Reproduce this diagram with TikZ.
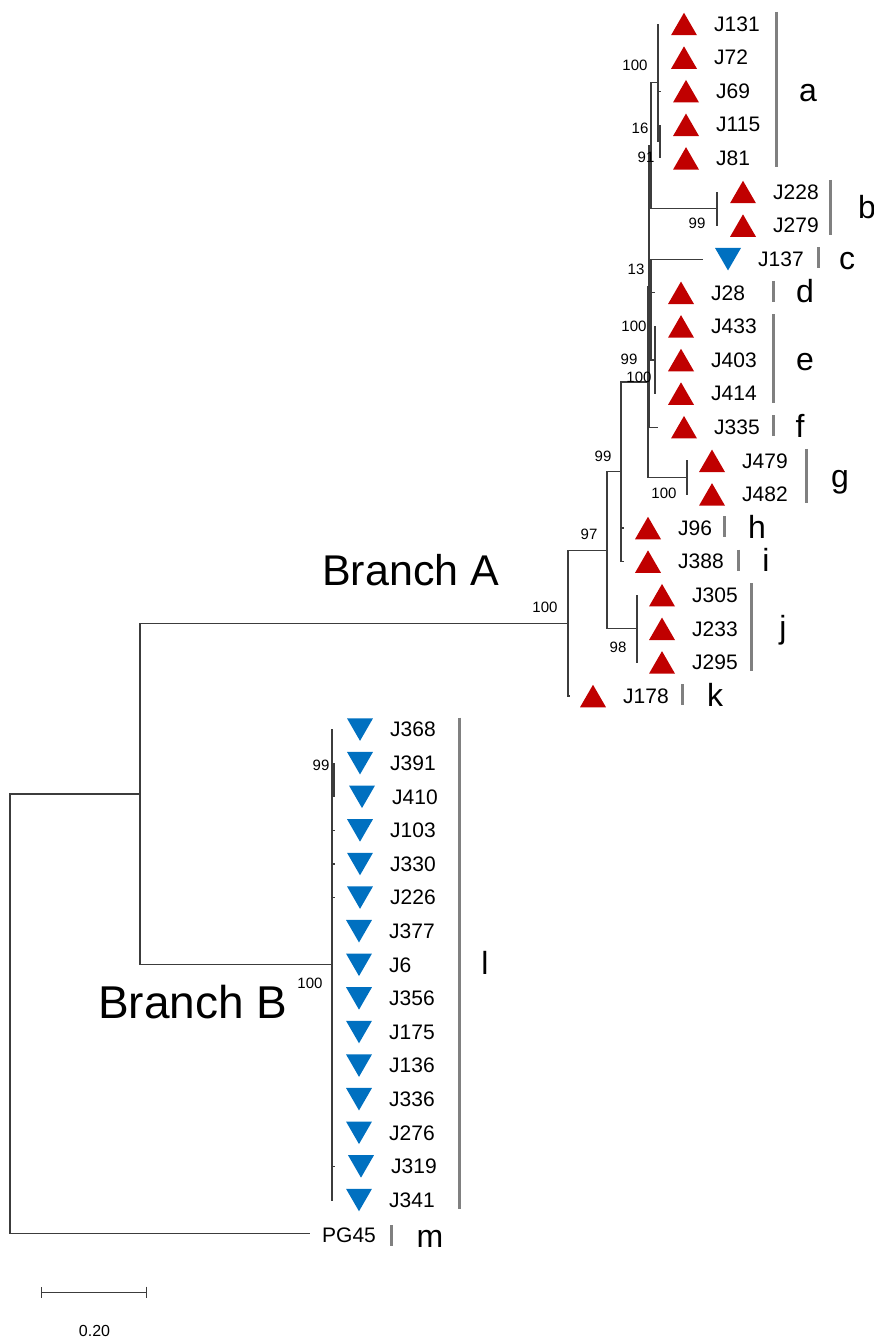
\documentclass[tikz,border=0pt]{standalone}
\usepackage{fontspec}
\setmainfont{Liberation Sans}
\usetikzlibrary{shapes.geometric,arrows.meta}
\definecolor{markred}{RGB}{192,0,0}
\definecolor{markblue}{RGB}{0,112,192}
\definecolor{branchgray}{RGB}{60,60,60}
\definecolor{bargray}{RGB}{128,128,128}
\tikzset{
  branch/.style={draw=branchgray, line width=1.2pt},
  cladebar/.style={draw=bargray, line width=3pt},
  redup/.style={regular polygon, regular polygon sides=3, fill=markred, minimum size=30pt, inner sep=0pt, outer sep=0pt},
  bluedown/.style={regular polygon, regular polygon sides=3, shape border rotate=180, fill=markblue, minimum size=30pt, inner sep=0pt, outer sep=0pt},
  tiplab/.style={anchor=west, inner sep=0pt, font=\fontsize{21}{25}\selectfont},
  boot/.style={inner sep=0pt, font=\fontsize{15}{18}\selectfont},
  cladelab/.style={anchor=base, inner sep=0pt, font=\fontsize{32}{38}\selectfont},
  branchlab/.style={anchor=base west, inner sep=0pt, font=\fontsize{43}{50}\selectfont},
}
\begin{document}
\begin{tikzpicture}[x=1pt, y=-1pt, line join=miter]
\useasboundingbox (0,0) rectangle (874,1340);
\coordinate (root) at (10,1013.8);
\coordinate (nAB) at (140,794);
\coordinate (nA) at (568,623.2);
\coordinate (nB) at (332,964.8);
\coordinate (n97) at (607,550.3);
\coordinate (nj) at (637,628.8);
\coordinate (n99) at (621,471.8);
\coordinate (n100c) at (648,382);
\coordinate (n100u) at (649,286.5);
\coordinate (n91) at (651,145.8);
\coordinate (na) at (658,82.8);
\coordinate (n16) at (660,141.6);
\coordinate (nb) at (717,208.8);
\coordinate (n13) at (651,309.6);
\coordinate (ne) at (655,360);
\coordinate (ng) at (687,477.6);
\coordinate (n99b) at (334,780);
\coordinate (ePG45) at (310,1233.6);
\foreach \lab/\i/\ex/\mx in {J131/0/658/684, J72/1/659/684, J69/2/661/686, J115/3/660/686, J81/4/660/686,
  J228/5/717/743, J279/6/717/743, J28/8/655/681, J433/9/656/681, J403/10/656/681, J414/11/656/681,
  J335/12/658/684, J479/13/688/712, J482/14/688/712, J96/15/624/648, J388/16/624/648,
  J305/17/638/662, J233/18/638/662, J295/19/638/662, J178/20/570/593}{
  \pgfmathsetmacro\yy{24+33.6*\i}
  \coordinate (e\lab) at (\ex,\yy);
  \node[redup] (m\lab) at (\mx,\yy+3.75) {};
  \node[tiplab] (t\lab) at (\mx+30,\yy) {\lab};
}
\foreach \lab/\i/\ex/\mx in {J137/7/703/728, J368/21/333/360, J391/22/335/360, J410/23/335/362, J103/24/335/360,
  J330/25/335/360, J226/26/335/360, J377/27/333/359, J6/28/333/359, J356/29/333/359, J175/30/333/359,
  J136/31/333/359, J336/32/333/359, J276/33/333/359, J319/34/335/361, J341/35/333/359}{
  \pgfmathsetmacro\yy{24+33.6*\i}
  \coordinate (e\lab) at (\ex,\yy);
  \node[bluedown] (m\lab) at (\mx,\yy-3.75) {};
  \node[tiplab] (t\lab) at (\mx+30,\yy) {\lab};
}
\node[tiplab] (tPG45) at (322,1235) {PG45};
\foreach \p/\c in {root/nAB, root/ePG45, nAB/nA, nAB/nB, nA/n97, nA/eJ178, n97/n99, n97/nj,
  nj/eJ305, nj/eJ233, nj/eJ295, n99/n100c, n99/eJ96, n99/eJ388, n100c/n100u, n100c/ng,
  ng/eJ479, ng/eJ482, n100u/n91, n100u/n13, n100u/eJ335, n91/na, n91/nb, nb/eJ228, nb/eJ279,
  na/eJ131, na/eJ72, na/eJ69, na/n16, n16/eJ115, n16/eJ81, n13/eJ137, n13/eJ28, n13/ne,
  ne/eJ433, ne/eJ403, ne/eJ414, nB/eJ368, nB/n99b, nB/eJ103, nB/eJ330, nB/eJ226, nB/eJ377,
  nB/eJ6, nB/eJ356, nB/eJ175, nB/eJ136, nB/eJ336, nB/eJ276, nB/eJ319, nB/eJ341,
  n99b/eJ391, n99b/eJ410}
  \draw[branch] (\p) |- (\c);
\foreach \nm/\bx/\by/\v in {bt1/635/65/100, bt2/640/128/16, bt3/646/157/91, bt4/697/223/99, bt5/636/269/13,
  bt6/634/326/100, bt7/629/359/99, bt8/639/377/100, bt9/664/493/100, bt10/603/456/99, bt11/589/534/97,
  bt12/618/647/98, bt13/545/607/100, bt14/321/765/99, bt15/310/983/100}
  \node[boot] (\nm) at (\bx,\by) {\v};
\foreach \ltr/\bx/\ya/\yb/\lx in {a/776/24/158.4/808, b/830/192/225.6/867, c/818/259.2/259.2/847,
  d/773/292.8/292.8/805, e/773/326.4/393.6/805, f/773/427.2/427.2/800, g/806/460.8/494.4/840,
  h/724/528/528/757, i/738/561.6/561.6/766, j/751/595.2/662.4/783, k/682/696/696/715,
  l/459/729.6/1200/485, m/391/1237/1237/430}{
  \draw[cladebar] (\bx,\ya-12) -- (\bx,\yb+9);
  \node[cladelab] (c\ltr) at (\lx,{(\ya+\yb)/2+10}) {\ltr};
}
\node[branchlab] (brA) at (322,585) {Branch A};
\node[branchlab, font=\fontsize{46}{52}\selectfont] (brB) at (98,1018) {Branch B};
\coordinate (sb1) at (41,1292);
\coordinate (sb2) at (147,1292);
\draw[branch, line width=1pt, {Bar[width=11pt]}-{Bar[width=11pt]}] (sb1) -- (sb2);
\node[boot, font=\fontsize{16}{19}\selectfont] (sblab) at (94.5,1331) {0.20};
\end{tikzpicture}
\end{document}
